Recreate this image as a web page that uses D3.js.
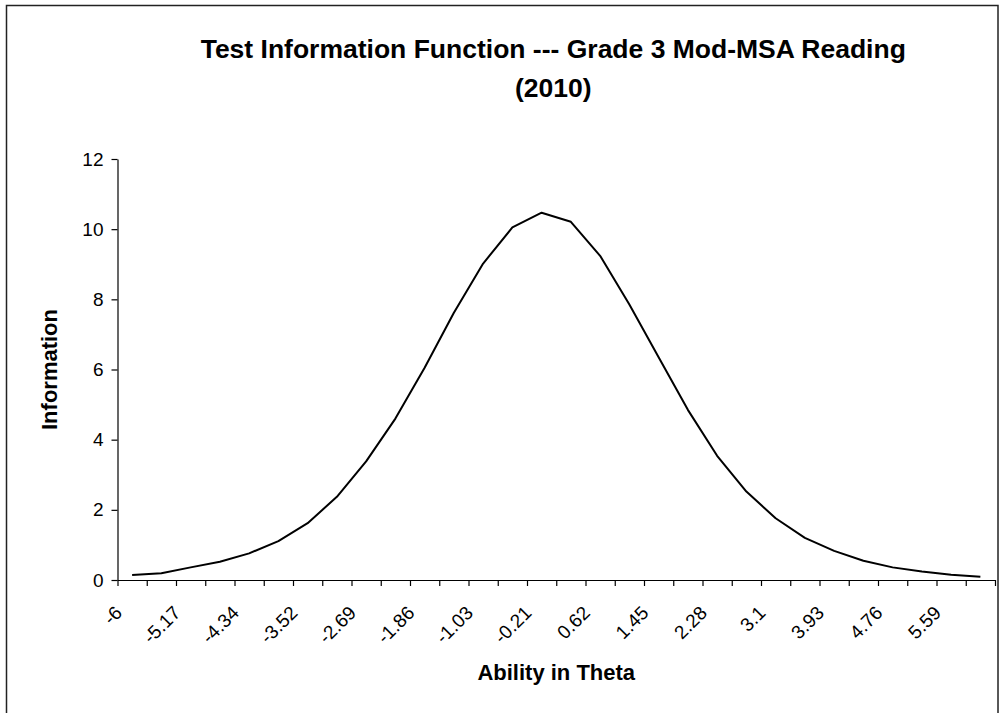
<!DOCTYPE html>
<html>
<head>
<meta charset="utf-8">
<script src="https://cdn.jsdelivr.net/npm/d3@7"></script>
<style>
  html, body { margin: 0; padding: 0; background: #fff; }
  svg { display: block; font-family: "Liberation Sans", Arial, sans-serif; }
</style>
</head>
<body>
<svg id="chart" width="999" height="713"></svg>
<script>
// ---- data ----
const thetaCategories = ["-6","-5.59","-5.17","-4.76","-4.34","-3.93","-3.52","-3.1","-2.69","-2.28",
  "-1.86","-1.45","-1.03","-0.62","-0.21","0.21","0.62","1.03","1.45","1.86",
  "2.28","2.69","3.1","3.52","3.93","4.34","4.76","5.17","5.59","6"];
const information = [0.14,0.19,0.36,0.52,0.76,1.11,1.62,2.37,3.38,4.6,
  6.05,7.62,9.02,10.05,10.47,10.21,9.24,7.85,6.35,4.85,
  3.54,2.52,1.76,1.2,0.83,0.55,0.36,0.24,0.15,0.09];
const xTickLabels = ["-6","-5.17","-4.34","-3.52","-2.69","-1.86","-1.03","-0.21","0.62","1.45","2.28","3.1","3.93","4.76","5.59"];
const yTicks = [0,2,4,6,8,10,12];
const titleLines = ["Test Information Function --- Grade 3 Mod-MSA Reading", "(2010)"];
const xTitle = "Ability in Theta";
const yTitle = "Information";

// ---- layout ----
const svg = d3.select("#chart");
const plot = {left: 117.5, right: 995, top: 159, bottom: 580};

// outer frame
svg.append("rect").attr("x", 6.5).attr("y", 5.5).attr("width", 991.5).attr("height", 760)
  .attr("fill", "none").attr("stroke", "#222").attr("stroke-width", 1.5);

const x = d3.scaleBand().domain(thetaCategories).range([plot.left, plot.right]).padding(0);
const xEdges = d3.scaleLinear().domain([0, thetaCategories.length]).range([plot.left, plot.right]);
const y = d3.scaleLinear().domain([0, 12]).range([plot.bottom, plot.top]);

// y axis
const yAxis = svg.append("g").attr("transform", `translate(${plot.left},0)`)
  .call(d3.axisLeft(y).tickValues(yTicks).tickSize(6).tickSizeOuter(0).tickPadding(8).tickFormat(d3.format("d")));
yAxis.select(".domain").attr("stroke", "#000").attr("stroke-width", 1.2);
yAxis.selectAll(".tick line").attr("stroke", "#000").attr("stroke-width", 1.2);
yAxis.selectAll(".tick text").attr("font-size", 19).attr("fill", "#000")
  .attr("font-family", "'Liberation Sans', Arial, sans-serif");

// x axis (tick marks between categories)
const xAxis = svg.append("g").attr("transform", `translate(0,${plot.bottom})`)
  .call(d3.axisBottom(xEdges).tickValues(d3.range(thetaCategories.length + 1)).tickSize(6).tickSizeOuter(0).tickFormat(""));
xAxis.select(".domain").attr("stroke", "#000").attr("stroke-width", 1.2);
xAxis.selectAll(".tick line").attr("stroke", "#000").attr("stroke-width", 1.2);

// x tick labels (every other category), rotated 45°
svg.append("g").selectAll("text")
  .data(xTickLabels)
  .join("text")
  .attr("transform", d => `translate(${x(d) + x.bandwidth() / 2 - 9},${plot.bottom + 34}) rotate(-45)`)
  .attr("text-anchor", "end")
  .attr("font-size", 19)
  .attr("fill", "#000")
  .text(d => d);

// line
const line = d3.line()
  .x((d, i) => x(thetaCategories[i]) + x.bandwidth() / 2)
  .y(d => y(d));
svg.append("path").datum(information)
  .attr("d", line)
  .attr("fill", "none")
  .attr("stroke", "#000")
  .attr("stroke-width", 2)
  .attr("stroke-linejoin", "round");

// titles
const cx = (plot.left + plot.right) / 2;
svg.append("g").selectAll("text").data(titleLines).join("text")
  .attr("x", cx - 3)
  .attr("y", (d, i) => 58 + i * 39)
  .attr("text-anchor", "middle")
  .attr("font-size", 26.5)
  .attr("font-weight", "bold")
  .attr("fill", "#000")
  .text(d => d);

svg.append("text")
  .attr("x", cx).attr("y", 680)
  .attr("text-anchor", "middle")
  .attr("font-size", 22).attr("font-weight", "bold").attr("fill", "#000")
  .text(xTitle);

svg.append("text")
  .attr("transform", `translate(56.5,${(plot.top + plot.bottom) / 2}) rotate(-90)`)
  .attr("text-anchor", "middle")
  .attr("font-size", 22).attr("font-weight", "bold").attr("fill", "#000")
  .text(yTitle);
</script>
</body>
</html>
